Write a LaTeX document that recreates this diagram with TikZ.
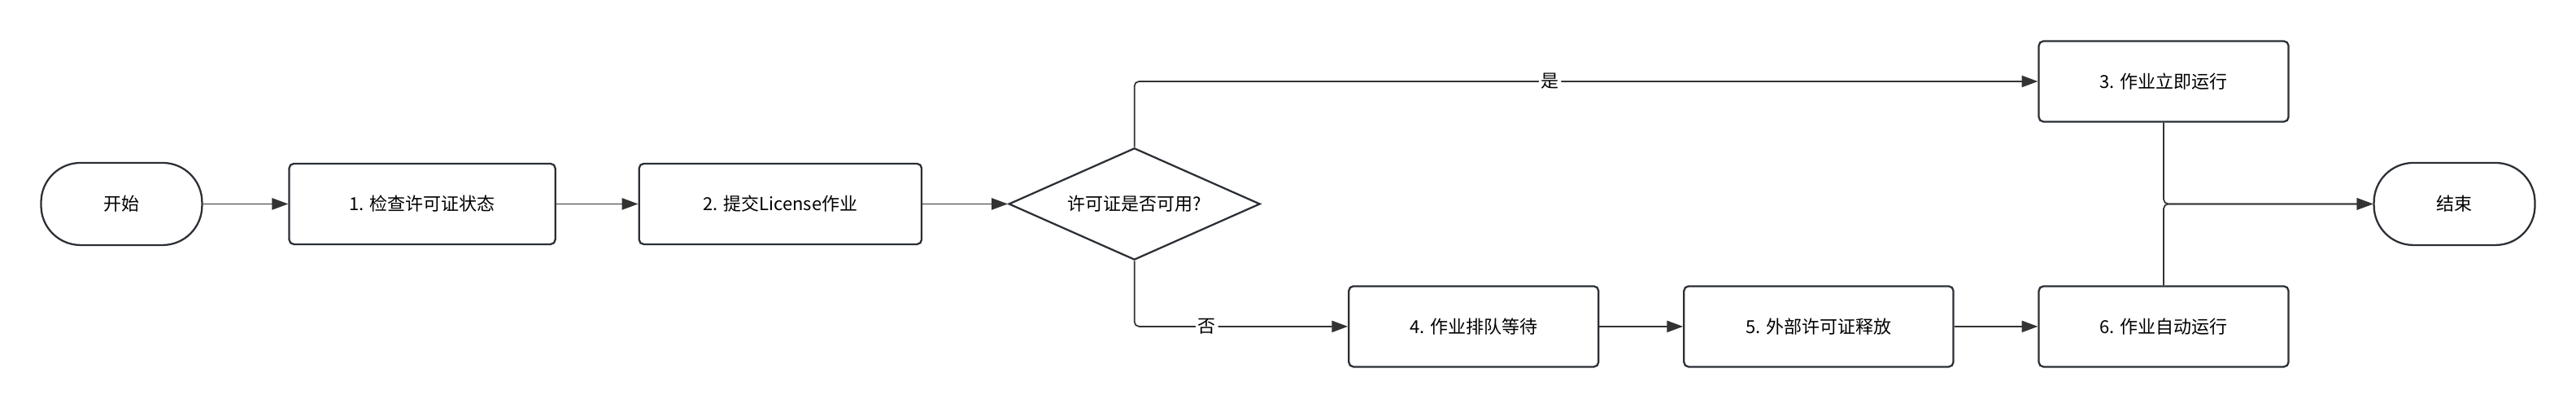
\documentclass[tikz,border=0pt]{standalone}
\usepackage{fontspec}
\setmainfont{Noto Sans CJK SC}
\usetikzlibrary{shapes.geometric, arrows.meta, positioning}
\definecolor{edgeink}{HTML}{2B2F36}
\definecolor{lineink}{HTML}{333333}

\begin{document}
\begin{tikzpicture}[x=0.05cm, y=-0.05cm, font=\fontsize{15.5}{18}\selectfont,
  stepbox/.style={draw=edgeink, line width=1.6pt, rounded corners=4pt, minimum height=2.45cm, align=center},
  terminal/.style={draw=edgeink, line width=1.6pt, rounded corners=1.2cm, minimum width=4.9cm, minimum height=2.5cm},
  decision/.style={draw=edgeink, line width=1.6pt, diamond, aspect=2.25, minimum width=7.65cm, minimum height=3.4cm, inner sep=0pt},
  flow/.style={draw=lineink, line width=1.2pt, -{Triangle[length=14pt, width=10pt]}, rounded corners=4pt},
  tag/.style={fill=white, inner sep=2pt}]
  \useasboundingbox (0,0) rectangle (1568,248);

  % Nodes
  \node[terminal] (start) at (74,124) {开始};
  \node[stepbox, minimum width=8.1cm] (check) at (257,124) {1. 检查许可证状态};
  \node[stepbox, minimum width=8.6cm] (submit) at (475,124) {2. 提交License作业};
  \node[decision] (avail) at (690.5,124) {许可证是否可用?};
  \node[stepbox, minimum width=7.6cm] (runnow) at (1317,49.5) {3. 作业立即运行};
  \node[stepbox, minimum width=7.6cm] (queue) at (897,198.5) {4. 作业排队等待};
  \node[stepbox, minimum width=8.2cm] (release) at (1107,198.5) {5. 外部许可证释放};
  \node[stepbox, minimum width=7.6cm] (autorun) at (1317,198.5) {6. 作业自动运行};
  \node[terminal] (finish) at (1494,124) {结束};

  % Connectors
  \draw[flow] (start) -- (check);
  \draw[flow] (check) -- (submit);
  \draw[flow] (submit) -- (avail);
  \draw[flow] (avail.north) |- (runnow.west) node[tag, pos=0.73] {是};
  \draw[flow] (avail.south) |- (queue.west) node[tag, pos=0.67] {否};
  \draw[flow] (queue) -- (release);
  \draw[flow] (release) -- (autorun);
  \draw[flow] (runnow.south) |- (finish.west);
  \draw[flow] (autorun.north) |- (finish.west);
\end{tikzpicture}
\end{document}
